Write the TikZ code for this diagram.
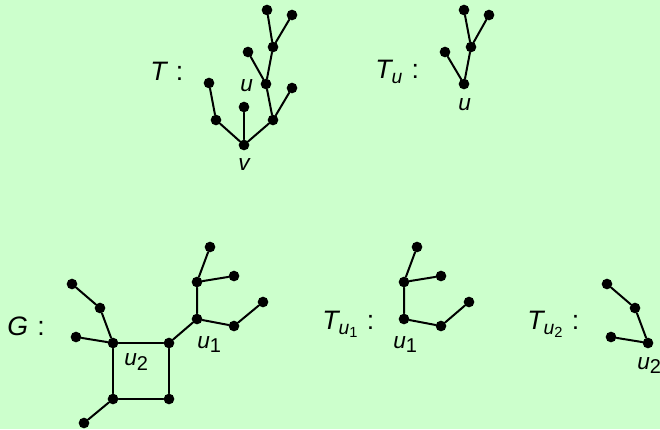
\documentclass[tikz,border=0pt]{standalone}
\usepackage{fontspec}
\setmainfont{Liberation Sans}
\definecolor{bggreen}{RGB}{204,255,204}

\begin{document}
\begin{tikzpicture}[x=0.75pt,y=-0.75pt,line cap=round,line join=round,
    dot/.style={circle,fill=black,inner sep=0pt,minimum size=8pt},
    edge/.style={line width=1.5pt},
    lbl/.style={anchor=base west,inner sep=0pt,font=\fontsize{17}{17}\selectfont},
    ttl/.style={anchor=base west,inner sep=0pt,font=\fontsize{20}{20}\selectfont}]
    \fill[bggreen] (0,0) rectangle (660,429);
    \path[use as bounding box] (0,0) rectangle (660,429);

    % tree T
    \node[dot] (v) at (244,145) {};
    \node[dot] (a) at (216,120) {};
    \node[dot] (al) at (209,83) {};
    \node[dot] (b) at (244,107) {};
    \node[dot] (c) at (273,120) {};
    \node[dot] (cl) at (292,88) {};
    \node[dot] (u) at (266,84) {};
    \node[dot] (ul) at (248,52) {};
    \node[dot] (w) at (273,47) {};
    \node[dot] (wl) at (267,10) {};
    \node[dot] (wr) at (292,15) {};

    \draw[edge] (v) -- (a) -- (al);
    \draw[edge] (v) -- (b);
    \draw[edge] (v) -- (c) -- (cl);
    \draw[edge] (c) -- (u) -- (ul);
    \draw[edge] (u) -- (w) -- (wl);
    \draw[edge] (w) -- (wr);

    \node[ttl] (tT) at (150,80) {\itshape T\upshape\hspace{7pt}:};
    \node[lbl] (lu) at (240,91) {\itshape u};
    \node[lbl] (lv) at (238,170) {\itshape v};

    % subtree T_u
    \node[dot] (ru) at (464,84) {};
    \node[dot] (rul) at (445,52) {};
    \node[dot] (rw) at (471,47) {};
    \node[dot] (rwl) at (464,10) {};
    \node[dot] (rwr) at (489,15) {};

    \draw[edge] (ru) -- (rul);
    \draw[edge] (ru) -- (rw) -- (rwl);
    \draw[edge] (rw) -- (rwr);

    \node[ttl] (tTu) at (375,78) {\itshape T\raisebox{-4pt}{\fontsize{14.5}{14.5}\selectfont u}\upshape\hspace{7pt}:};
    \node[lbl] (lru) at (458,110) {\itshape u};

    % graph G
    \node[dot] (g2) at (113,343) {};
    \node[dot] (gtr) at (169,343) {};
    \node[dot] (gbl) at (113,399) {};
    \node[dot] (gbr) at (169,399) {};
    \node[dot] (gbleaf) at (84,423) {};
    \node[dot] (gleft) at (76,337) {};
    \node[dot] (gmid) at (100,308) {};
    \node[dot] (gup) at (72,284) {};
    \node[dot] (g1) at (197,319) {};
    \node[dot] (grm) at (234,326) {};
    \node[dot] (grl) at (263,302) {};
    \node[dot] (gum) at (197,282) {};
    \node[dot] (gtop) at (210,247) {};
    \node[dot] (gur) at (234,276) {};

    \draw[edge] (g2) -- (gtr) -- (gbr) -- (gbl) -- (g2);
    \draw[edge] (gbl) -- (gbleaf);
    \draw[edge] (g2) -- (gleft);
    \draw[edge] (g2) -- (gmid) -- (gup);
    \draw[edge] (gtr) -- (g1) -- (grm) -- (grl);
    \draw[edge] (g1) -- (gum) -- (gtop);
    \draw[edge] (gum) -- (gur);

    \node[ttl] (tG) at (7,335) {\itshape G\upshape\hspace{7pt}:};
    \node[lbl] (lg2) at (124,365) {\itshape u\upshape\raisebox{-4pt}{\fontsize{15}{15}\selectfont 2}};
    \node[lbl] (lg1) at (197,348) {\itshape u\upshape\raisebox{-3pt}{\fontsize{15}{15}\selectfont 1}};

    % subtree T_{u_1}
    \node[dot] (s1) at (404,319) {};
    \node[dot] (sum) at (404,282) {};
    \node[dot] (stop) at (417,247) {};
    \node[dot] (sur) at (441,276) {};
    \node[dot] (srm) at (441,326) {};
    \node[dot] (srl) at (469,302) {};

    \draw[edge] (s1) -- (sum) -- (stop);
    \draw[edge] (sum) -- (sur);
    \draw[edge] (s1) -- (srm) -- (srl);

    \node[ttl] (tTu1) at (322,329) {\itshape T\raisebox{-4pt}{\fontsize{14.5}{14.5}\selectfont u\upshape\raisebox{-2pt}{\fontsize{11}{11}\selectfont 1}}\upshape\hspace{7pt}:};
    \node[lbl] (ls1) at (393,348) {\itshape u\upshape\raisebox{-3pt}{\fontsize{15}{15}\selectfont 1}};

    % subtree T_{u_2}
    \node[dot] (p2) at (648,343) {};
    \node[dot] (pm) at (635,308) {};
    \node[dot] (ptop) at (607,284) {};
    \node[dot] (pleft) at (611,337) {};

    \draw[edge] (p2) -- (pm) -- (ptop);
    \draw[edge] (p2) -- (pleft);

    \node[ttl] (tTu2) at (527,329) {\itshape T\raisebox{-4pt}{\fontsize{14.5}{14.5}\selectfont u\upshape\raisebox{-2pt}{\fontsize{11}{11}\selectfont 2}}\upshape\hspace{7pt}:};
    \node[lbl] (lp2) at (637,369) {\itshape u\upshape\raisebox{-3pt}{\fontsize{15}{15}\selectfont 2}};
\end{tikzpicture}
\end{document}
